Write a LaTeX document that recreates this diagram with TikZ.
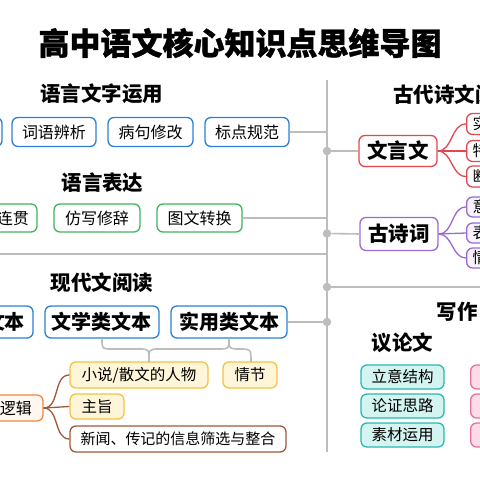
\documentclass[tikz,border=0pt]{standalone}
\usepackage{fontspec}
\setmainfont{Noto Sans CJK SC}
\newcommand\fsz[1]{\fontsize{#1}{#1}\selectfont}
\definecolor{cblue}{HTML}{2B80D6}
\definecolor{cgreen}{HTML}{3DB65A}
\definecolor{cred}{HTML}{E2474F}
\definecolor{cpurple}{HTML}{9A6AD0}
\definecolor{cteal}{HTML}{2BB8AE}
\definecolor{cteallt}{HTML}{D3F4F0}
\definecolor{cpink}{HTML}{E8709A}
\definecolor{cpinklt}{HTML}{FBDCE8}
\definecolor{cyel}{HTML}{F2C443}
\definecolor{cyellt}{HTML}{FFF6DA}
\definecolor{cbrown}{HTML}{A05A3A}
\definecolor{corange}{HTML}{F08A3A}
\definecolor{corangelt}{HTML}{FFF8F0}
\definecolor{cgray}{HTML}{BDBDBD}
\tikzset{
  base/.style={rounded corners=6pt, line width=1.3pt, inner sep=0pt, align=center, text=black},
  bluebox/.style={base, draw=cblue, fill=white, font=\fsz{16}, minimum height=29},
  bigblue/.style={base, draw=cblue, fill=white, font=\bfseries\fsz{20}, minimum height=32},
  greenbox/.style={base, draw=cgreen, fill=white, font=\fsz{16}, minimum height=28},
  redmain/.style={base, draw=cred, fill=white, font=\bfseries\fsz{20.5}, minimum height=31, minimum width=78},
  purmain/.style={base, draw=cpurple, fill=white, font=\bfseries\fsz{20.5}, minimum height=33, minimum width=78},
  redleaf/.style={base, draw=cred, fill=white, font=\fsz{15.5}, minimum height=21, anchor=west, inner xsep=6},
  purleaf/.style={base, draw=cpurple, fill=cpurple!8, font=\fsz{15.5}, minimum height=20, anchor=west, inner xsep=6},
  tealbox/.style={base, draw=cteal, fill=cteallt, font=\fsz{15.5}, minimum height=24, minimum width=83},
  pinkbox/.style={base, draw=cpink, fill=cpinklt, minimum height=24, minimum width=50, anchor=west},
  yelbox/.style={base, draw=cyel, fill=cyellt, font=\fsz{15.5}, minimum height=26},
  brownbox/.style={base, draw=cbrown, fill=white, font=\fsz{15}, minimum height=26},
  orangebox/.style={base, draw=corange, fill=corangelt, font=\fsz{16}, minimum height=26},
  head/.style={font=\bfseries\fsz{20.5}, inner sep=0pt},
  gline/.style={draw=cgray, line width=1.6pt},
  vline/.style={draw=cgray, line width=2pt},
  dotn/.style={circle, fill=cgray, inner sep=0pt, minimum size=8.5},
  redln/.style={draw=cred, line width=1.3pt},
  purln/.style={draw=cpurple, line width=1.3pt},
  brownln/.style={draw=cbrown, line width=1.3pt},
}
\begin{document}
\begin{tikzpicture}[x=1pt, y=-1pt]
\useasboundingbox (0,0) rectangle (480,480);
\clip (0,0) rectangle (480,480);
\fill[white] (0,0) rectangle (480,480);

% title
\node[font=\bfseries\fsz{31}\addfontfeature{FakeBold=1.2}, inner sep=0pt] (title) at (240,43) {高中语文核心知识点思维导图};

% central vertical line and dots
\coordinate (vtop) at (327,80);
\coordinate (vbot) at (327,452);
\draw[vline] (vtop) -- (vbot);
\node[dotn] (d1) at (327,151) {};
\node[dotn] (d2) at (327,233.5) {};
\node[dotn] (d3) at (327,287) {};
\node[dotn] (d4) at (327,322) {};

% ===== 语言文字运用 =====
\node[head] (h1) at (102,94) {语言文字运用};
\node[bluebox, minimum width=64] (b0) at (-30,132) {};
\node[bluebox, minimum width=84] (b1) at (54,132) {词语辨析};
\node[bluebox, minimum width=85] (b2) at (150.5,132) {病句修改};
\node[bluebox, minimum width=84] (b3) at (247,132) {标点规范};
\coordinate (v132) at (327,132);
\draw[gline] (b3.east) -- (v132);

% ===== 语言表达 =====
\node[head] (h2) at (102.5,183) {语言表达};
\node[greenbox, text width=78, align=right, inner xsep=8] (g0) at (-10,218) {连贯};
\node[greenbox, minimum width=86] (g1) at (97,218) {仿写修辞};
\node[greenbox, minimum width=85] (g2) at (199.5,218) {图文转换};
\coordinate (v218) at (327,218);
\draw[gline] (g2.east) -- (v218);

% separator
\coordinate (s0) at (0,254);
\coordinate (s1) at (327,254);
\draw[gline] (s0) -- (s1);

% ===== 现代文阅读 =====
\node[head] (h3) at (102,283) {现代文阅读};
\node[bigblue, text width=80, align=right, inner xsep=8] (m0) at (-15,322) {文本};
\node[bigblue, minimum width=114] (m1) at (102,322) {文学类文本};
\node[bigblue, minimum width=116] (m2) at (229,322) {实用类文本};
\draw[gline] (m2.east) -- (d4);

\node[yelbox, minimum width=138] (y1) at (139,375) {小说/散文的人物};
\node[yelbox, minimum width=54] (y2) at (250,375) {情节};
\node[yelbox, minimum width=54, minimum height=25] (y3) at (97,406.5) {主旨};
\node[brownbox, minimum width=216] (n1) at (178,439) {新闻、传记的信息筛选与整合};
\node[orangebox, text width=60, align=right, inner xsep=11] (o1) at (2,408) {逻辑};

\coordinate (yj) at (149,362);
\coordinate (qj) at (251,362);
\draw[gline] (m1.south) .. controls (102,349) .. (112,349) -- (139,349) .. controls (149,349) .. (yj);
\draw[gline] (m2.south) .. controls (229,349) .. (219,349) -- (159,349) .. controls (149,349) .. (yj);
\draw[gline] (m2.south) .. controls (229,349) .. (240,349) .. controls (251,349) .. (qj);

\draw[brownln] (o1.east) to[out=0, in=180] (y1.west);
\draw[brownln] (o1.east) -- (y3.west);
\draw[brownln] (o1.east) to[out=0, in=180] (n1.west);

% ===== 古代诗文阅读 =====
\node[head, anchor=west] (h4) at (393,95) {古代诗文阅读};
\node[redmain] (r1) at (398,151) {文言文};
\node[purmain] (p1) at (399,234) {古诗词};
\draw[gline] (d1) -- (r1.west);
\draw[gline] (d2) -- (p1.west);

\node[redleaf] (r1a) at (466,124) {实词虚词};
\node[redleaf] (r1b) at (466,151) {特殊句式};
\node[redleaf] (r1c) at (466,176.5) {断句翻译};
\draw[redln] (r1.east) to[out=0, in=180] (r1a.west);
\draw[redln] (r1.east) -- (r1b.west);
\draw[redln] (r1.east) to[out=0, in=180] (r1c.west);

\node[purleaf] (p1a) at (466,207) {意象意境};
\node[purleaf] (p1b) at (466,233) {表达技巧};
\node[purleaf] (p1c) at (466,258) {情感主旨};
\draw[purln] (p1.east) to[out=0, in=180] (p1a.west);
\draw[purln] (p1.east) -- (p1b.west);
\draw[purln] (p1.east) to[out=0, in=180] (p1c.west);

% ===== 写作 =====
\coordinate (rr) at (480,287);
\draw[gline] (d3) -- (rr);
\node[head] (h5) at (457,312) {写作};
\node[head] (h6) at (402.5,343) {议论文};
\node[tealbox] (t1) at (402.5,377) {立意结构};
\node[tealbox] (t2) at (402.5,406) {论证思路};
\node[tealbox] (t3) at (402.5,435) {素材运用};
\node[pinkbox] (k1) at (470,377) {};
\node[pinkbox] (k2) at (470,406) {};
\node[pinkbox] (k3) at (470,435) {};
\end{tikzpicture}
\end{document}
